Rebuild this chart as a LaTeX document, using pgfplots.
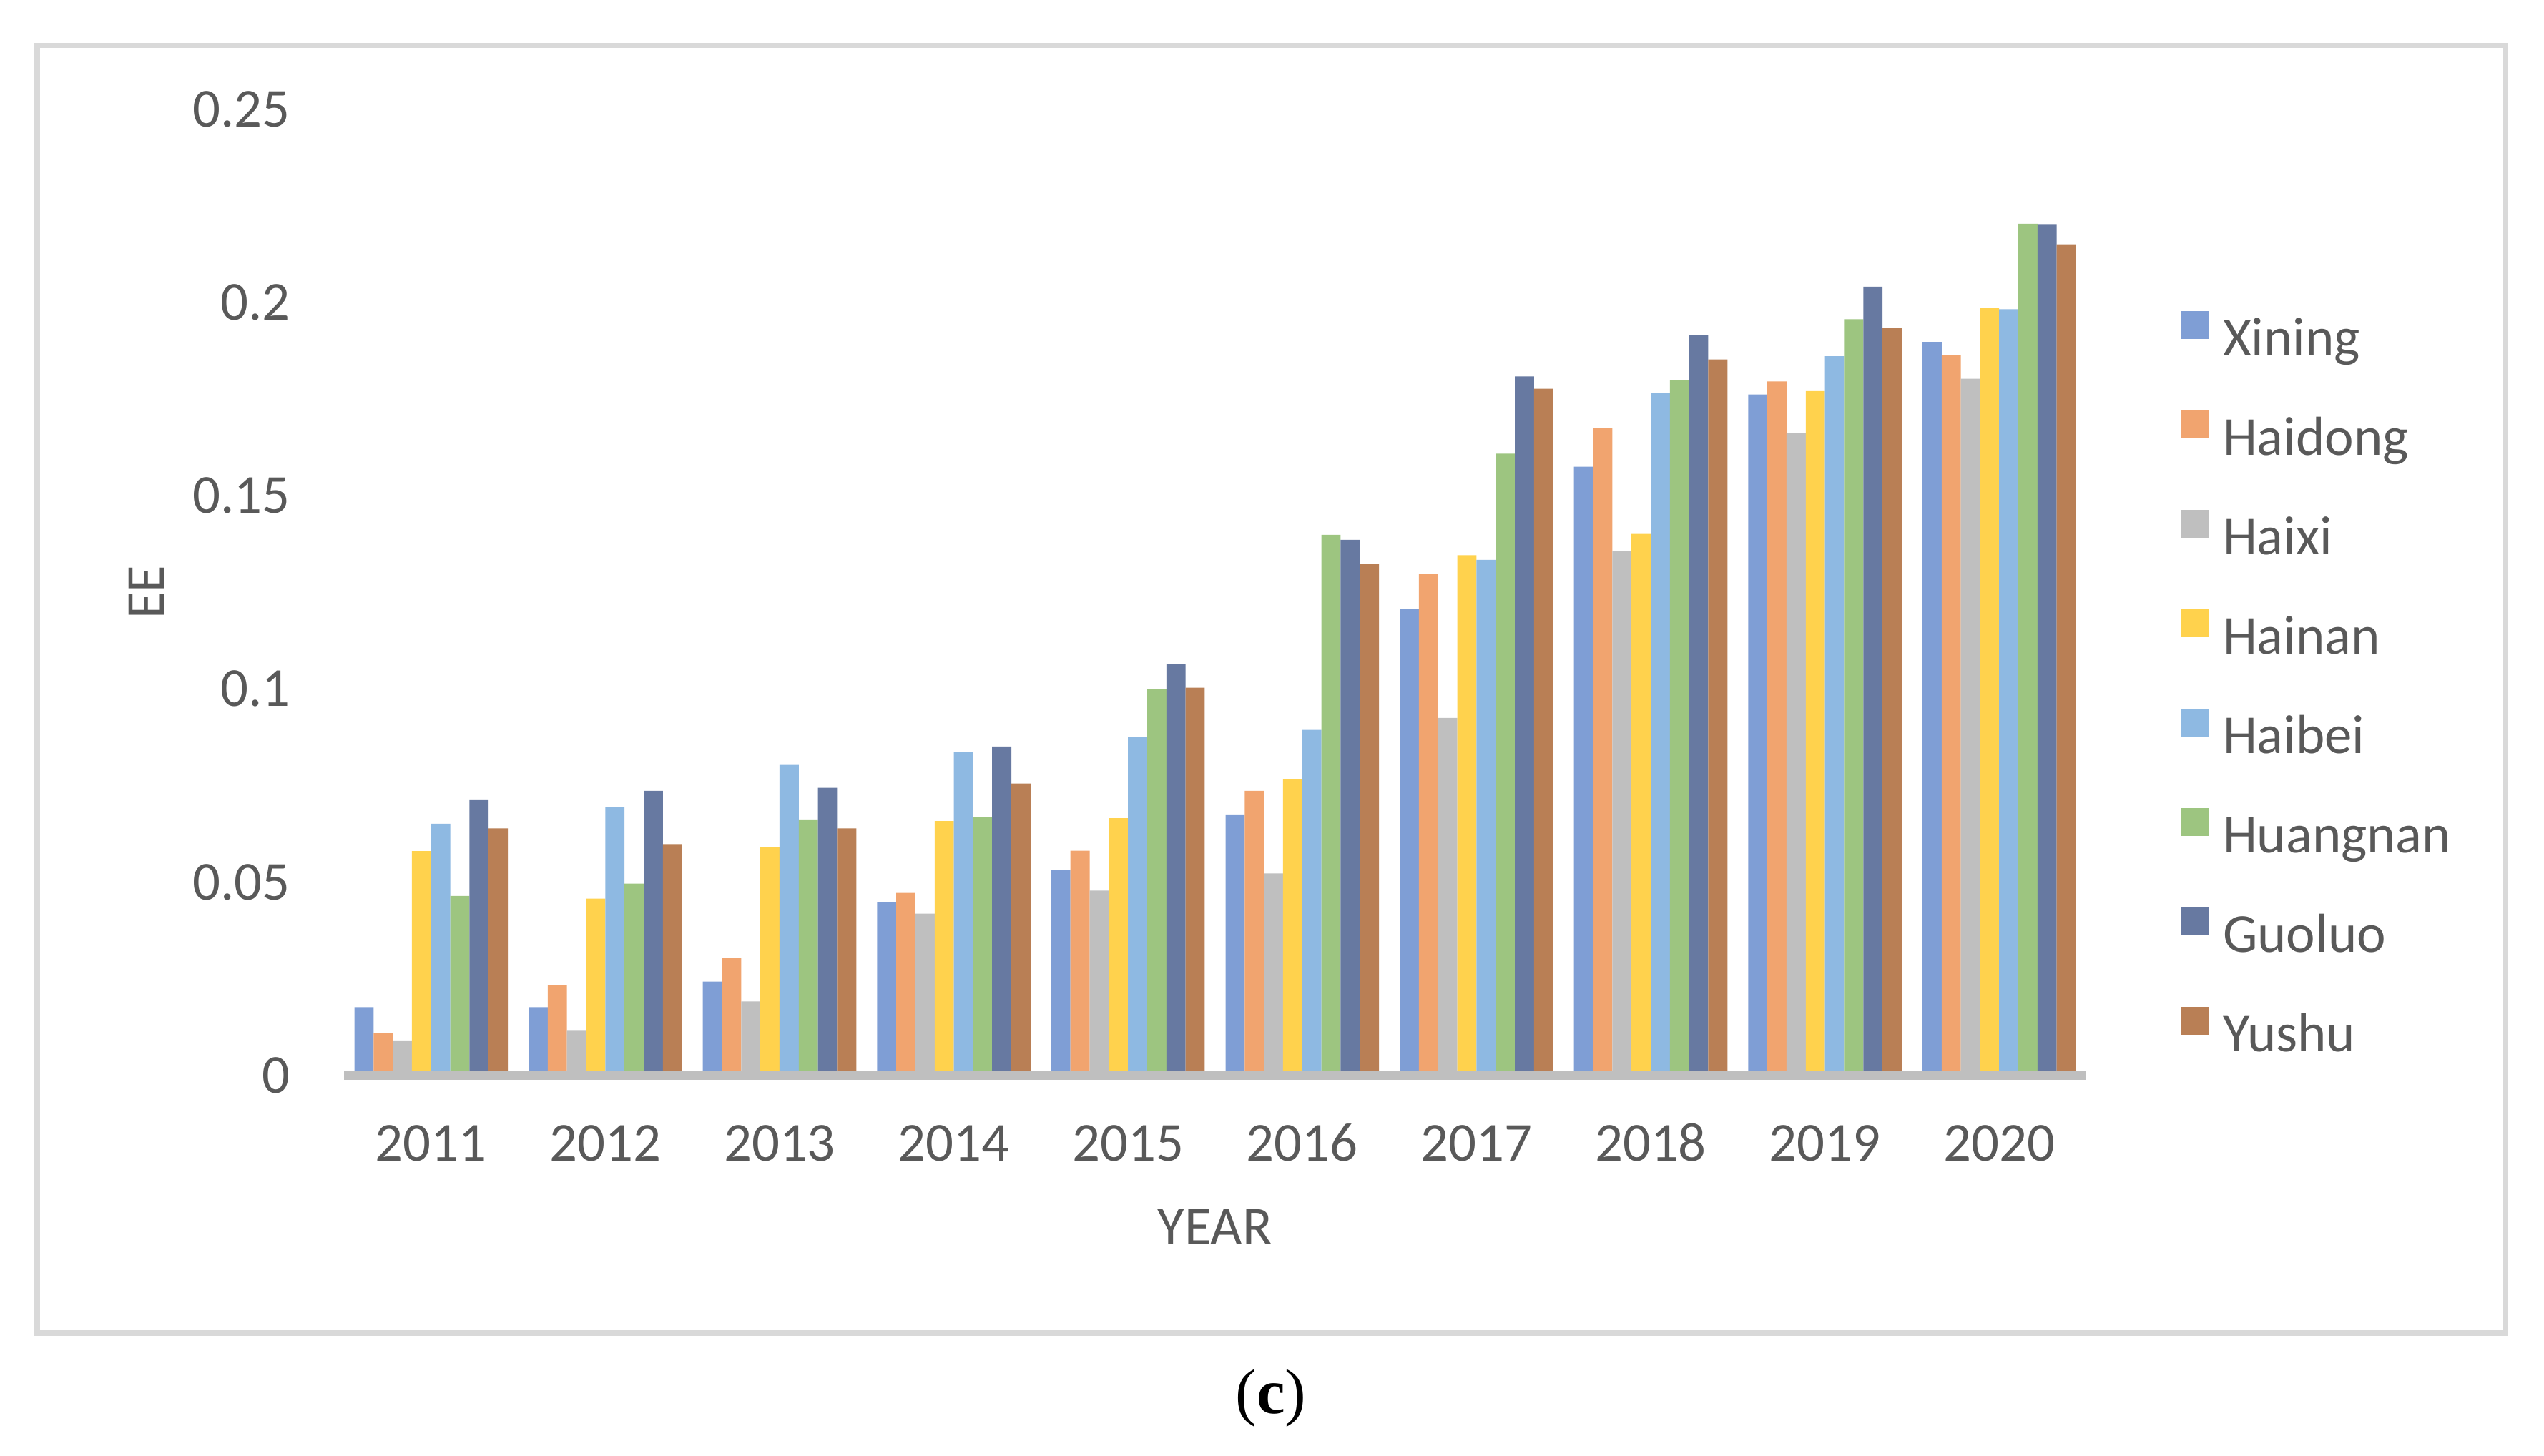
\documentclass[border=0pt]{standalone}
\usepackage{fontspec}
\setmainfont{Carlito}
\newfontfamily\capfont{Liberation Serif}
\usepackage{pgfplots}
\usepackage{pgfplotstable}
\pgfplotsset{compat=1.18}

\definecolor{cXining}{HTML}{7F9ED5}
\definecolor{cHaidong}{HTML}{F1A46F}
\definecolor{cHaixi}{HTML}{BFBFBF}
\definecolor{cHainan}{HTML}{FFD24D}
\definecolor{cHaibei}{HTML}{8EB9E2}
\definecolor{cHuangnan}{HTML}{9DC580}
\definecolor{cGuoluo}{HTML}{6779A1}
\definecolor{cYushu}{HTML}{B97F55}
\definecolor{txt}{HTML}{595959}
\definecolor{frame}{HTML}{D9D9D9}
\definecolor{baseline}{HTML}{BFBFBF}

% EE by region, years 2011..2020 as 0..9
\pgfplotstableread{
i Xining Haidong Haixi Hainan Haibei Huangnan Guoluo Yushu
0 0.0176 0.0109 0.0090 0.0580 0.0651 0.0464 0.0714 0.0639
1 0.0176 0.0232 0.0115 0.0457 0.0695 0.0496 0.0736 0.0598
2 0.0242 0.0303 0.0191 0.0590 0.0803 0.0662 0.0744 0.0639
3 0.0448 0.0472 0.0418 0.0658 0.0837 0.0669 0.0851 0.0755
4 0.0530 0.0581 0.0478 0.0665 0.0875 0.1000 0.1065 0.1003
5 0.0675 0.0736 0.0522 0.0767 0.0894 0.1399 0.1386 0.1323
6 0.1207 0.1297 0.0925 0.1346 0.1334 0.1609 0.1809 0.1777
7 0.1575 0.1675 0.1356 0.1401 0.1766 0.1799 0.1916 0.1853
8 0.1762 0.1796 0.1663 0.1771 0.1861 0.1957 0.2041 0.1935
9 0.1898 0.1864 0.1803 0.1987 0.1983 0.2204 0.2203 0.2151
}\eedata

\begin{document}
\begin{tikzpicture}
\useasboundingbox (0,0) rectangle (500pt,286.06pt);
\draw[frame, line width=1pt] (7.31pt,24.04pt) rectangle (492.27pt,277.07pt);
\node[anchor=center] at (249.8pt,11.26pt) {\capfont\fontsize{12.5}{14}\selectfont(\textbf{c})};
\begin{axis}[
    at={(67.61pt,74.72pt)}, anchor=south west,
    scale only axis,
    width=342.43pt, height=189.83pt,
    font=\fontsize{10.8}{13}\selectfont,
    ybar=0pt, bar width=3.77pt,
    xmin=-0.5, xmax=9.5, ymin=0, ymax=0.25,
    axis on top,
    axis x line=bottom, axis y line=left,
    x axis line style={-, draw=baseline, line width=1.7pt},
    y axis line style={draw=none},
    major tick length=0pt,
    xtick={0,...,9},
    xticklabels={2011,2012,2013,2014,2015,2016,2017,2018,2019,2020},
    ytick={0,0.05,0.1,0.15,0.2,0.25},
    yticklabels={0,0.05,0.1,0.15,0.2,0.25},
    tick label style={text=txt},
    xticklabel style={anchor=base, inner sep=0pt, yshift=-16.9pt},
    yticklabel style={anchor=east, inner sep=0pt, xshift=-10.4pt},
    xlabel={YEAR}, ylabel={EE},
    label style={text=txt},
    xlabel style={at={(axis description cs:0.5,-0.1571)}, anchor=center},
    ylabel style={at={(axis description cs:-0.1133,0.5)}, anchor=center},
    legend image code/.code={\fill[#1] (0pt,0.7pt) rectangle (5.6pt,6.3pt);},
    legend cell align=left,
    legend style={draw=none, fill=none, at={(1.0542,0.7915)}, anchor=north west,
        inner sep=0pt, outer sep=0pt, row sep=8.24pt, column sep=2.7pt,
        text=txt,
        nodes={inner sep=0pt, text height=7.5pt, text depth=2.5pt}},
]
\addplot[draw=none, fill=cXining] table[x=i, y=Xining] {\eedata};
\addplot[draw=none, fill=cHaidong] table[x=i, y=Haidong] {\eedata};
\addplot[draw=none, fill=cHaixi] table[x=i, y=Haixi] {\eedata};
\addplot[draw=none, fill=cHainan] table[x=i, y=Hainan] {\eedata};
\addplot[draw=none, fill=cHaibei] table[x=i, y=Haibei] {\eedata};
\addplot[draw=none, fill=cHuangnan] table[x=i, y=Huangnan] {\eedata};
\addplot[draw=none, fill=cGuoluo] table[x=i, y=Guoluo] {\eedata};
\addplot[draw=none, fill=cYushu] table[x=i, y=Yushu] {\eedata};
\legend{Xining, Haidong, Haixi, Hainan, Haibei, Huangnan, Guoluo, Yushu}
\end{axis}
\end{tikzpicture}
\end{document}
